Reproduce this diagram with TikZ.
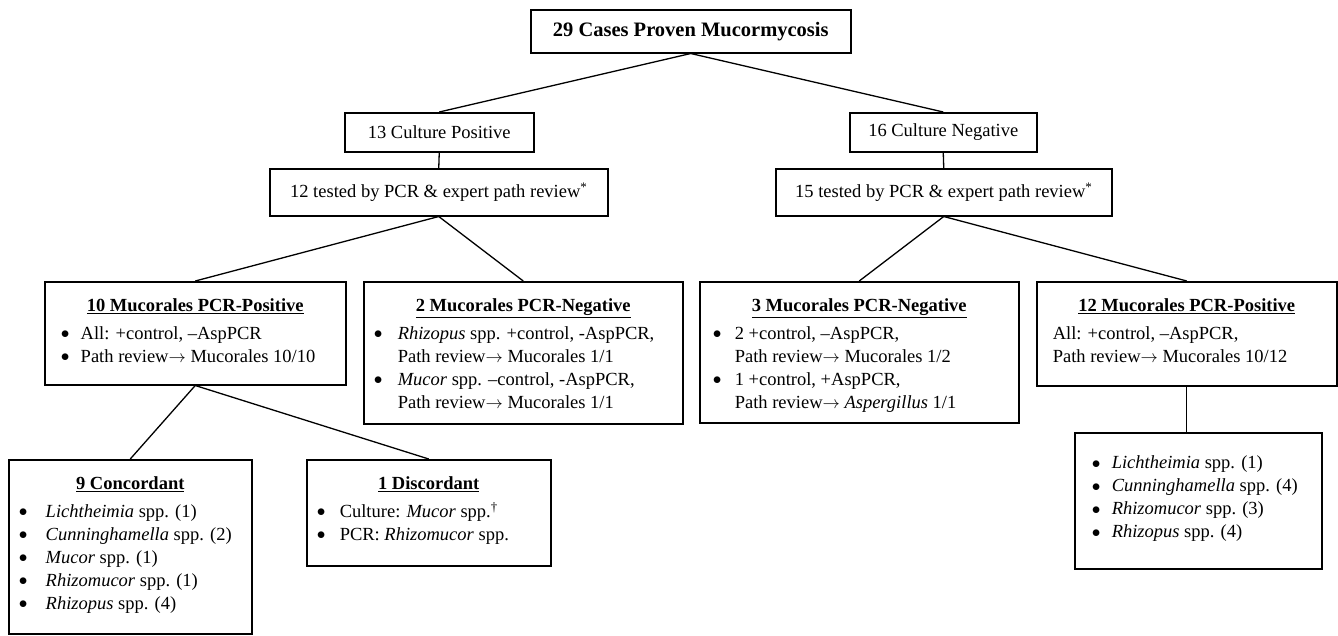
\documentclass[tikz,border=0pt]{standalone}
\usepackage{fontspec}
\setmainfont{Liberation Serif}
\newcommand{\dotb}{\raisebox{0.5pt}{$\bullet$}}
\newcommand{\arr}{$\rightarrow$}
\newcommand{\bl}[3]{\par\noindent\hspace*{\dimexpr#1-5pt\relax}\makebox[\dimexpr#2-#1+5pt\relax][l]{\dotb}#3\strut}
\newcommand{\cl}[2]{\par\noindent\hspace*{#1}#2\strut}
\newcommand{\tl}[1]{\par\noindent\makebox[\linewidth][c]{\textbf{\underline{#1}}}\strut}
\newcommand{\bx}[3]{\begin{minipage}[c][#2][t]{#1}\setlength{\parskip}{0pt}\fontsize{18.5pt}{23pt}\selectfont#3\end{minipage}}
\tikzset{
  box/.style={draw, line width=1.5pt, inner sep=0pt, anchor=north west, font=\fontsize{18.5pt}{23pt}\selectfont},
  conn/.style={draw, line width=1.3pt}
}
\begin{document}
\begin{tikzpicture}[x=1pt,y=-1pt]
\useasboundingbox (0,0) rectangle (1338,635);
% level 0
\node[box, minimum width=320pt, minimum height=43pt, font=\fontsize{20.5pt}{24pt}\selectfont\bfseries] (top) at (530,9) {29 Cases Proven Mucormycosis};
% level 1
\node[box, minimum width=189pt, minimum height=39pt] (cp) at (344,112) {13 Culture Positive};
\node[box, minimum width=187pt, minimum height=39pt] (cn) at (849,112) {16 Culture Negative};
% level 2
\node[box, minimum width=338pt, minimum height=47pt] (tp) at (269,168) {12 tested by PCR \& expert path review\textsuperscript{*}};
\node[box, minimum width=336pt, minimum height=47pt] (tn) at (775,168) {15 tested by PCR \& expert path review\textsuperscript{*}};
% level 3
\node[box] (mp10) at (44,281) {\bx{301pt}{103pt}{%
  \vspace*{13.5pt}\tl{10 Mucorales PCR-Positive}\vspace{5pt}
  \bl{21pt}{36pt}{All: +control, –AspPCR}
  \bl{21pt}{36pt}{Path review\arr{} Mucorales 10/10}}};
\node[box] (mn2) at (363,281) {\bx{319pt}{142pt}{%
  \vspace*{13.5pt}\tl{2 Mucorales PCR-Negative}\vspace{5pt}
  \bl{15pt}{34pt}{\textit{Rhizopus} spp. +control, -AspPCR,}
  \cl{34pt}{Path review\arr{} Mucorales 1/1}
  \bl{15pt}{34pt}{\textit{Mucor} spp. –control, -AspPCR,}
  \cl{34pt}{Path review\arr{} Mucorales 1/1}}};
\node[box] (mn3) at (699,281) {\bx{319pt}{141pt}{%
  \vspace*{13.5pt}\tl{3 Mucorales PCR-Negative}\vspace{5pt}
  \bl{18pt}{35pt}{2 +control, –AspPCR,}
  \cl{35pt}{Path review\arr{} Mucorales 1/2}
  \bl{18pt}{35pt}{1 +control, +AspPCR,}
  \cl{35pt}{Path review\arr{} \textit{Aspergillus} 1/1}}};
\node[box] (mp12) at (1036,281) {\bx{300pt}{104pt}{%
  \vspace*{13.5pt}\tl{12 Mucorales PCR-Positive}\vspace{5pt}
  \cl{16pt}{All: +control, –AspPCR,}
  \cl{16pt}{Path review\arr{} Mucorales 10/12}}};
% level 4
\node[box] (conc) at (8,459) {\bx{243pt}{174pt}{%
  \vspace*{13.5pt}\tl{9 Concordant}\vspace{5pt}
  \bl{15pt}{37pt}{\textit{Lichtheimia} spp. (1)}
  \bl{15pt}{37pt}{\textit{Cunninghamella} spp. (2)}
  \bl{15pt}{37pt}{\textit{Mucor} spp. (1)}
  \bl{15pt}{37pt}{\textit{Rhizomucor} spp. (1)}
  \bl{15pt}{37pt}{\textit{Rhizopus} spp. (4)}}};
\node[box] (disc) at (306,459) {\bx{244pt}{106pt}{%
  \vspace*{13.5pt}\tl{1 Discordant}\vspace{5pt}
  \bl{15pt}{33pt}{Culture: \textit{Mucor} spp.\textsuperscript{†}}
  \bl{15pt}{33pt}{PCR: \textit{Rhizomucor} spp.}}};
\node[box] (sp12) at (1074,432) {\bx{247pt}{136pt}{%
  \vspace*{19.9pt}
  \bl{22pt}{37pt}{\textit{Lichtheimia} spp. (1)}
  \bl{22pt}{37pt}{\textit{Cunninghamella} spp. (4)}
  \bl{22pt}{37pt}{\textit{Rhizomucor} spp. (3)}
  \bl{22pt}{37pt}{\textit{Rhizopus} spp. (4)}}};
% connectors
\draw[conn] (top.south) -- (cp.north);
\draw[conn] (top.south) -- (cn.north);
\draw[conn] (cp.south) -- (tp.north);
\draw[conn] (cn.south) -- (tn.north);
\draw[conn] (tp.south) -- (mp10.north);
\draw[conn] (tp.south) -- (mn2.north);
\draw[conn] (tn.south) -- (mn3.north);
\draw[conn] (tn.south) -- (mp12.north);
\draw[conn] (mp10.south) -- (conc.north);
\draw[conn] (mp10.south) -- (disc.north);
\draw[conn] (mp12.south) -- (mp12.south |- sp12.north);
\end{tikzpicture}
\end{document}
